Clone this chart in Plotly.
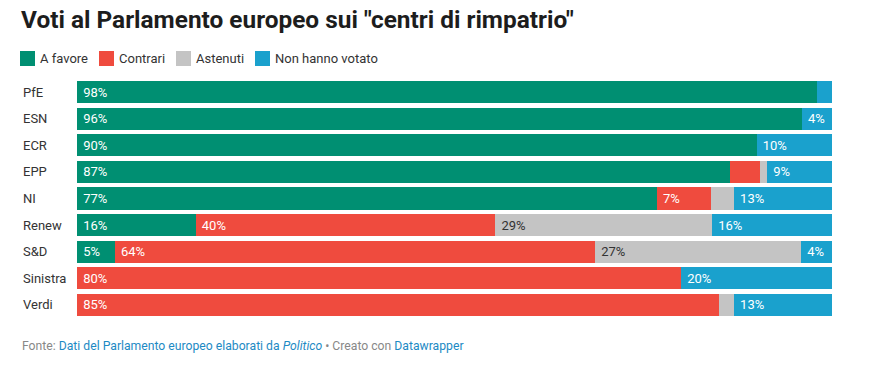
import plotly.graph_objects as go

categories = ["PfE", "ESN", "ECR", "EPP", "NI", "Renew", "S&D", "Sinistra", "Verdi"]
a_favore = [98.0, 96.0, 90.0, 86.5, 76.8, 15.7, 5.0, 0.0, 0.0]
contrari = [0.0, 0.0, 0.0, 3.9, 7.2, 39.7, 63.6, 80.0, 85.0]
astenuti = [0.0, 0.0, 0.0, 1.0, 3.0, 28.7, 27.3, 0.0, 2.0]
non_votato = [2.0, 4.0, 10.0, 8.6, 13.0, 15.9, 4.1, 20.0, 13.0]
series_names = ["A favore", "Contrari", "Astenuti", "Non hanno votato"]
series_values = [a_favore, contrari, astenuti, non_votato]
colors = ["#008f72", "#ef4b3e", "#c4c4c4", "#1aa1cd"]
text_colors = ["#ffffff", "#ffffff", "#333333", "#ffffff"]

W, H = 878, 367
L, R, T, B = 77, 46, 79, 49
PW, PH = W - L - R, H - T - B

def px(x):
    return (x - L) / PW

def py(y):
    return (H - B - y) / PH

fig = go.Figure()
for name, vals, col, tcol in zip(series_names, series_values, colors, text_colors):
    labels = ["&nbsp;%d%%" % int(v + 0.5) if v >= 4 else "" for v in vals]
    fig.add_trace(go.Bar(
        y=categories, x=vals, name=name, orientation="h",
        marker=dict(color=col, line=dict(width=0)),
        text=labels, textposition="inside", insidetextanchor="start",
        textangle=0, textfont=dict(color=tcol, size=13, family="Roboto"),
        hoverinfo="x+y+name", showlegend=False,
    ))

fig.update_layout(
    width=W, height=H, barmode="stack", bargap=0.17,
    margin=dict(l=L, r=R, t=T, b=B, autoexpand=False),
    paper_bgcolor="white", plot_bgcolor="white",
    font=dict(family="Roboto", color="#333333", size=13),
    xaxis=dict(range=[0, 100], visible=False, fixedrange=True),
    yaxis=dict(autorange="reversed", showticklabels=False, showgrid=False,
               zeroline=False, fixedrange=True),
)

annotations = []
# title
annotations.append(dict(text='<b>Voti al Parlamento europeo sui "centri di rimpatrio"</b>',
                        xref="paper", yref="paper", x=px(19), y=py(19.5),
                        xanchor="left", yanchor="middle", showarrow=False,
                        font=dict(size=24.4, color="#1d1d1d", family="Roboto")))
# category labels
for c in categories:
    annotations.append(dict(text=c, xref="paper", yref="y", x=px(21), y=c,
                            xanchor="left", yanchor="middle", showarrow=False,
                            font=dict(size=13, color="#333333")))
# legend
legend_x = [20, 99, 176, 255]
shapes = []
for name, col, lx in zip(series_names, colors, legend_x):
    shapes.append(dict(type="rect", xref="paper", yref="paper",
                       x0=px(lx), x1=px(lx + 15), y0=py(66), y1=py(51),
                       fillcolor=col, line=dict(width=0)))
    annotations.append(dict(text=name, xref="paper", yref="paper",
                            x=px(lx + 18), y=py(58.5), xanchor="left", yanchor="middle",
                            showarrow=False, font=dict(size=13, color="#333333")))
# footer
footer = ("<span style='color:#888888'>Fonte: </span>"
          "<span style='color:#1d8ac4'>Dati del Parlamento europeo elaborati da <i>Politico</i></span>"
          "<span style='color:#888888'> • Creato con </span>"
          "<span style='color:#1d8ac4'>Datawrapper</span>")
annotations.append(dict(text=footer, xref="paper", yref="paper", x=px(19.5), y=py(346),
                        xanchor="left", yanchor="middle", showarrow=False,
                        font=dict(size=12.2, family="Roboto")))

fig.update_layout(annotations=annotations, shapes=shapes)
fig.write_html("out.html", config={"displayModeBar": False},
               post_script="document.body.style.margin='0';document.body.style.overflow='hidden';")
